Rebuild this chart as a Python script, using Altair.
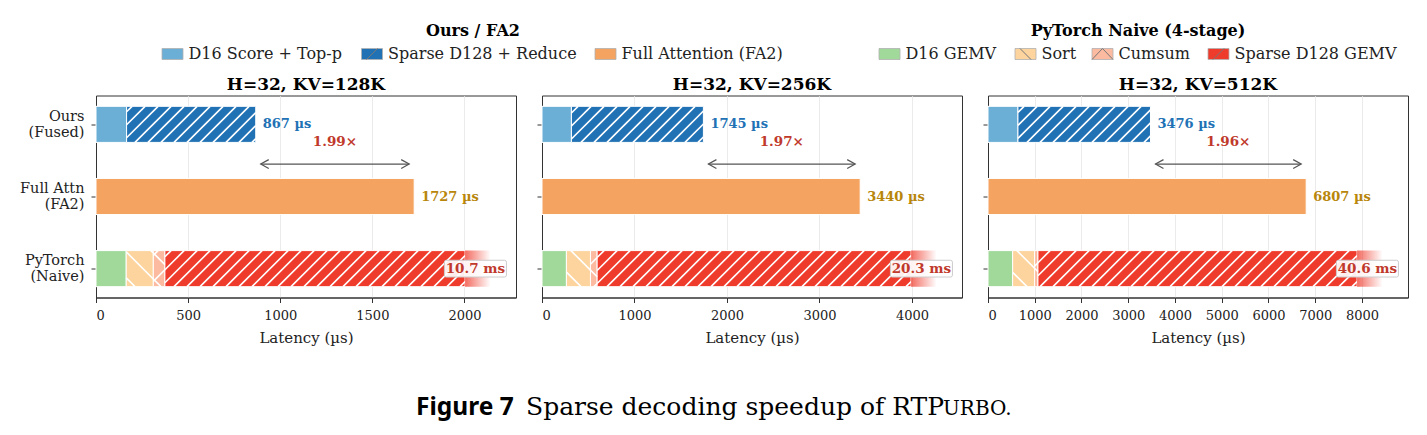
import json
import math

import altair as alt
import pandas as pd

FONT = "DejaVu Serif"

# ---------------------------------------------------------------- data
PANEL_TITLES = ["H=32, KV=128K", "H=32, KV=256K", "H=32, KV=512K"]
ROW_LABELS = [["Ours", "(Fused)"], ["Full Attn", "(FA2)"], ["PyTorch", "(Naive)"]]
X_TICKS = [
    [0, 500, 1000, 1500, 2000],
    [0, 1000, 2000, 3000, 4000],
    [0, 1000, 2000, 3000, 4000, 5000, 6000, 7000, 8000],
]

OURS_STAGES = ["D16 Score + Top-p", "Sparse D128 + Reduce"]
FA2_STAGES = ["Full Attention (FA2)"]
TORCH_STAGES = ["D16 GEMV", "Sort", "Cumsum", "Sparse D128 GEMV"]

# stage latencies in microseconds, one value per panel
ours_score = [166, 318, 641]
ours_sparse = [701, 1427, 2835]
fa2_full = [1727, 3440, 6807]
torch_gemv16 = [164, 264, 527]
torch_sort = [147, 260, 470]
torch_cumsum = [63, 72, 72]
torch_sparse = [10326, 19704, 39531]

# ---------------------------------------------------------------- style
STAGE_COLORS = {
    "D16 Score + Top-p": "#6baed6",
    "Sparse D128 + Reduce": "#2171b5",
    "Full Attention (FA2)": "#f4a361",
    "D16 GEMV": "#a1d99b",
    "Sort": "#fdd49e",
    "Cumsum": "#fcbba1",
    "Sparse D128 GEMV": "#ef3b2c",
}
STAGE_HATCH = {
    "Sparse D128 + Reduce": "/",
    "Sort": "\\",
    "Cumsum": "x",
    "Sparse D128 GEMV": "/",
}
HATCH_SPACING = {"/": 13.0, "\\": 26.0, "x": 26.0}
OURS_LABEL_COLOR = "#2171b5"
FA2_LABEL_COLOR = "#b8860b"
TORCH_LABEL_COLOR = "#c0392b"
SPEEDUP_COLOR = "#c0392b"
ARROW_COLOR = "#555555"

W, H = 420, 202
Y_DOMAIN = [-0.4, 2.4]
BAR_HALF = 0.25
KY = H / (Y_DOMAIN[1] - Y_DOMAIN[0])  # pixels per row unit
SHRINK_PX = 5.0


def hatch_lines(x0p, x1p, h, kind):
    """Diagonal hatch strokes clipped to a bar, in pixels (v measured up from bar bottom)."""
    sp = HATCH_SPACING[kind]
    out = []
    if kind in ("/", "x"):
        for k in range(math.floor((x0p - h) / sp) - 1, math.ceil(x1p / sp) + 2):
            c = k * sp
            ua, ub = max(x0p, c), min(x1p, c + h)
            if ub - ua > 0.3:
                out.append((ua, ua - c, ub, ub - c))
    if kind in ("\\", "x"):
        for k in range(math.floor(x0p / sp) - 1, math.ceil((x1p + h) / sp) + 2):
            c = k * sp + sp / 2
            ua, ub = max(x0p, c - h), min(x1p, c)
            if ub - ua > 0.3:
                out.append((ua, c - ua, ub, c - ub))
    return out


def x_enc(field, i, xmax):
    return alt.X(
        f"{field}:Q",
        scale=alt.Scale(domain=[0, xmax], nice=False, zero=False),
        axis=alt.Axis(values=X_TICKS[i], title="Latency (µs)", format="d", grid=True),
    )


def y_enc(field, i):
    expr = "".join(
        f"datum.value == {r} ? {json.dumps(lbl)} : " for r, lbl in enumerate(ROW_LABELS)
    ) + "''"
    axis = alt.Axis(values=[0, 1, 2], title=None, grid=False, labels=(i == 0), labelExpr=expr,
                    labelOffset=-8)
    return alt.Y(
        f"{field}:Q",
        scale=alt.Scale(domain=Y_DOMAIN, reverse=True, nice=False, zero=False),
        axis=axis,
    )


def panel(i):
    fa2 = fa2_full[i]
    xmax = 1.32 * fa2
    cap = 1.16 * fa2
    fade_end = 1.24 * fa2
    kx = W / xmax

    rows = [
        (0, OURS_STAGES, [ours_score[i], ours_sparse[i]]),
        (1, FA2_STAGES, [fa2_full[i]]),
        (2, TORCH_STAGES, [torch_gemv16[i], torch_sort[i], torch_cumsum[i], torch_sparse[i]]),
    ]
    bars, hatch = [], []
    totals = []
    for row, names, vals in rows:
        start = 0
        for name, v in zip(names, vals):
            end = start + v
            shown = min(end, cap)
            bars.append(dict(start=start, end=shown, y0=row - BAR_HALF, y1=row + BAR_HALF, stage=name))
            kind = STAGE_HATCH.get(name)
            if kind:
                for ua, va, ub, vb in hatch_lines(start * kx, shown * kx, 2 * BAR_HALF * KY, kind):
                    hatch.append(dict(
                        x=ua / kx, x2=ub / kx,
                        y=row + BAR_HALF - va / KY, y2=row + BAR_HALF - vb / KY,
                    ))
            start = end
        totals.append(start)
    ours_tot, _, torch_tot = totals

    bars_df = pd.DataFrame(bars)
    hatch_df = pd.DataFrame(hatch)

    bar_layer = alt.Chart(bars_df).mark_rect(stroke="white", strokeWidth=1).encode(
        x=x_enc("start", i, xmax),
        x2="end:Q",
        y=y_enc("y0", i),
        y2="y1:Q",
        color=alt.Color("stage:N", scale=alt.Scale(
            domain=list(STAGE_COLORS), range=list(STAGE_COLORS.values())), legend=None),
    )
    hatch_layer = alt.Chart(hatch_df).mark_rule(color="white", strokeWidth=1.6).encode(
        x=x_enc("x", i, xmax), x2="x2:Q", y=y_enc("y", i), y2="y2:Q",
    )

    # truncated PyTorch bar fades out past the cut
    fade_df = pd.DataFrame([dict(start=cap, end=fade_end, y0=2 - BAR_HALF, y1=2 + BAR_HALF)])
    fade_layer = alt.Chart(fade_df).mark_rect(
        color=alt.LinearGradient(
            gradient="linear", x1=0, x2=1, y1=0, y2=0,
            stops=[
                alt.GradientStop(color="rgba(239,59,44,0.75)", offset=0),
                alt.GradientStop(color="rgba(239,59,44,0.0)", offset=1),
            ],
        )
    ).encode(x=x_enc("start", i, xmax), x2="end:Q", y=y_enc("y0", i), y2="y1:Q")

    lab_df = pd.DataFrame([
        dict(x=ours_tot, y=0, text=f"{ours_tot} µs", c=OURS_LABEL_COLOR),
        dict(x=fa2, y=1, text=f"{fa2} µs", c=FA2_LABEL_COLOR),
    ])
    lab_layer = alt.Chart(lab_df).mark_text(
        align="left", baseline="middle", dx=7, font=FONT, fontSize=13, fontWeight="bold"
    ).encode(
        x=x_enc("x", i, xmax), y=y_enc("y", i), text="text:N",
        color=alt.Color("c:N", scale=None),
    )

    torch_df = pd.DataFrame([dict(x=cap * 1.028, y=2, text=f"{torch_tot / 1000:.1f} ms")])
    box_path = ("M-0.94,-0.27L0.94,-0.27Q1,-0.27 1,-0.21L1,0.21Q1,0.27 0.94,0.27"
                "L-0.94,0.27Q-1,0.27 -1,0.21L-1,-0.21Q-1,-0.27 -0.94,-0.27Z")
    box_layer = alt.Chart(torch_df).mark_point(
        shape=box_path, filled=True, fill="white", fillOpacity=0.92,
        stroke="#cccccc", strokeWidth=1, size=(2 * 31) ** 2, opacity=1,
    ).encode(x=x_enc("x", i, xmax), y=y_enc("y", i))
    torch_text = alt.Chart(torch_df).mark_text(
        align="center", baseline="middle", font=FONT, fontSize=13.5, fontWeight="bold",
        color=TORCH_LABEL_COLOR,
    ).encode(x=x_enc("x", i, xmax), y=y_enc("y", i), text="text:N")

    # speed-up arrow between the fused and FA2 bar ends
    arr_y = 0.55
    arr_df = pd.DataFrame([dict(a=ours_tot + SHRINK_PX / kx, b=fa2 - SHRINK_PX / kx, y=arr_y)])
    arrow_line = alt.Chart(arr_df).mark_rule(color=ARROW_COLOR, strokeWidth=1.2).encode(
        x=x_enc("a", i, xmax), x2="b:Q", y=y_enc("y", i),
    )
    head_size = (2 * 8) ** 2
    head_l = alt.Chart(arr_df).mark_point(
        shape="M1,-0.55L0,0L1,0.55", filled=False, stroke=ARROW_COLOR, strokeWidth=1.2,
        size=head_size, opacity=1,
    ).encode(x=x_enc("a", i, xmax), y=y_enc("y", i))
    head_r = alt.Chart(arr_df).mark_point(
        shape="M-1,-0.55L0,0L-1,0.55", filled=False, stroke=ARROW_COLOR, strokeWidth=1.2,
        size=head_size, opacity=1,
    ).encode(x=x_enc("b", i, xmax), y=y_enc("y", i))

    sp_df = pd.DataFrame([dict(x=(ours_tot + fa2) / 2, y=0.25, text=f"{fa2 / ours_tot:.2f}×")])
    sp_layer = alt.Chart(sp_df).mark_text(
        align="center", baseline="middle", font=FONT, fontSize=13.5, fontWeight="bold",
        color=SPEEDUP_COLOR,
    ).encode(x=x_enc("x", i, xmax), y=y_enc("y", i), text="text:N")

    return alt.layer(
        bar_layer, hatch_layer, fade_layer, lab_layer, box_layer, torch_text,
        arrow_line, head_l, head_r, sp_layer,
    ).properties(
        width=W, height=H,
        title=alt.TitleParams(PANEL_TITLES[i], font=FONT, fontSize=17, fontWeight="bold",
                              anchor="middle", offset=2, color="black"),
        view=alt.ViewBackground(stroke="#333333", strokeWidth=1),
    )


# ---------------------------------------------------------------- header legend
# header and caption frames start at the left edge of the first plot
HL = 97.0
HT = 18.0
HW, HH = 1309.0, 46.0

LEG_TITLES = ["Ours / FA2", "PyTorch Naive (4-stage)"]
LEG_GROUPS = [OURS_STAGES + FA2_STAGES, TORCH_STAGES]
LEG_TITLE_X = [474, 1139]
LEG_SWATCH_X = [[163, 362.5, 596], [880, 1016, 1093, 1209]]
LEG_TITLE_Y, LEG_ROW_Y = 30.5, 54
SW_W, SW_H = 21, 11


def header():
    xs = alt.Scale(domain=[HL, HL + HW], nice=False, zero=False)
    ys = alt.Scale(domain=[HT, HT + HH], nice=False, zero=False, reverse=True)
    sw, txt, lines = [], [], []
    for names, xs_list in zip(LEG_GROUPS, LEG_SWATCH_X):
        for name, x0 in zip(names, xs_list):
            y0, y1 = LEG_ROW_Y - SW_H / 2, LEG_ROW_Y + SW_H / 2
            sw.append(dict(x=x0, x2=x0 + SW_W, y=y0, y2=y1, stage=name))
            txt.append(dict(x=x0 + SW_W + 5.5, y=LEG_ROW_Y, text=name))
            kind = STAGE_HATCH.get(name)
            if kind == "/":
                lines.append(dict(x=x0 + 5, y=y1, x2=x0 + 16, y2=y0))
            elif kind == "\\":
                lines.append(dict(x=x0 + 5, y=y0, x2=x0 + 16, y2=y1))
            elif kind == "x":
                lines.append(dict(x=x0, y=y1, x2=x0 + 10.5, y2=y0))
                lines.append(dict(x=x0 + 10.5, y=y0, x2=x0 + 21, y2=y1))
    titles = pd.DataFrame([dict(x=x, y=LEG_TITLE_Y, text=t) for x, t in zip(LEG_TITLE_X, LEG_TITLES)])

    sw_layer = alt.Chart(pd.DataFrame(sw)).mark_rect(stroke="#b0b0b0", strokeWidth=0.8).encode(
        x=alt.X("x:Q", scale=xs, axis=None), x2="x2:Q",
        y=alt.Y("y:Q", scale=ys, axis=None), y2="y2:Q",
        color=alt.Color("stage:N", scale=alt.Scale(
            domain=list(STAGE_COLORS), range=list(STAGE_COLORS.values())), legend=None),
    )
    ln_layer = alt.Chart(pd.DataFrame(lines)).mark_rule(color="#777777", strokeWidth=1).encode(
        x=alt.X("x:Q", scale=xs, axis=None), x2="x2:Q",
        y=alt.Y("y:Q", scale=ys, axis=None), y2="y2:Q",
    )
    tx_layer = alt.Chart(pd.DataFrame(txt)).mark_text(
        align="left", baseline="middle", font=FONT, fontSize=16, color="#222222"
    ).encode(
        x=alt.X("x:Q", scale=xs, axis=None), y=alt.Y("y:Q", scale=ys, axis=None), text="text:N"
    )
    ti_layer = alt.Chart(titles).mark_text(
        align="center", baseline="middle", font=FONT, fontSize=16, fontWeight="bold", color="black"
    ).encode(
        x=alt.X("x:Q", scale=xs, axis=None), y=alt.Y("y:Q", scale=ys, axis=None), text="text:N"
    )
    return alt.layer(sw_layer, ln_layer, tx_layer, ti_layer).properties(
        width=HW, height=HH, view=alt.ViewBackground(strokeOpacity=0)
    )


# ---------------------------------------------------------------- caption
CT, CH = 350.0, 70.0
CAPTION_Y = 401
CAPTION_PARTS = [
    dict(x=417, text="Figure 7", font="Noto Sans", size=24.5, weight="bold"),
    dict(x=527, text="Sparse decoding speedup of RTP", font=FONT, size=25, weight="normal"),
    dict(x=944, text="URBO.", font=FONT, size=20, weight="normal"),
]


def caption():
    xs = alt.Scale(domain=[HL, HL + HW], nice=False, zero=False)
    ys = alt.Scale(domain=[CT, CT + CH], nice=False, zero=False, reverse=True)
    layers = []
    for p in CAPTION_PARTS:
        df = pd.DataFrame([dict(x=p["x"], y=CAPTION_Y, text=p["text"])])
        layers.append(alt.Chart(df).mark_text(
            align="left", baseline="alphabetic", dy=8, font=p["font"], fontSize=p["size"],
            fontWeight=p["weight"], color="black",
        ).encode(
            x=alt.X("x:Q", scale=xs, axis=None), y=alt.Y("y:Q", scale=ys, axis=None), text="text:N"
        ))
    return alt.layer(*layers).properties(width=HW, height=CH, view=alt.ViewBackground(strokeOpacity=0))


row = alt.hconcat(panel(0), panel(1), panel(2), spacing=19)
chart = alt.vconcat(header(), row, caption(), spacing=10.5).properties(
    padding={"left": 19, "top": 18, "right": 0, "bottom": 0},
    background="white",
).configure_axis(
    labelFont=FONT, labelFontSize=13, labelColor="#222222",
    titleFont=FONT, titleFontSize=15, titleFontWeight="normal", titleColor="#222222",
    tickColor="#333333", tickSize=5, domainColor="#333333",
    gridColor="#e6e6e6", gridWidth=0.8, labelLineHeight=16,
).configure_axisX(labelPadding=7, titlePadding=7.5
).configure_axisY(labelFontSize=14.5, labelPadding=7).configure_view(stroke=None)

chart.save("out.html", embed_options={"renderer": "svg", "actions": False})
